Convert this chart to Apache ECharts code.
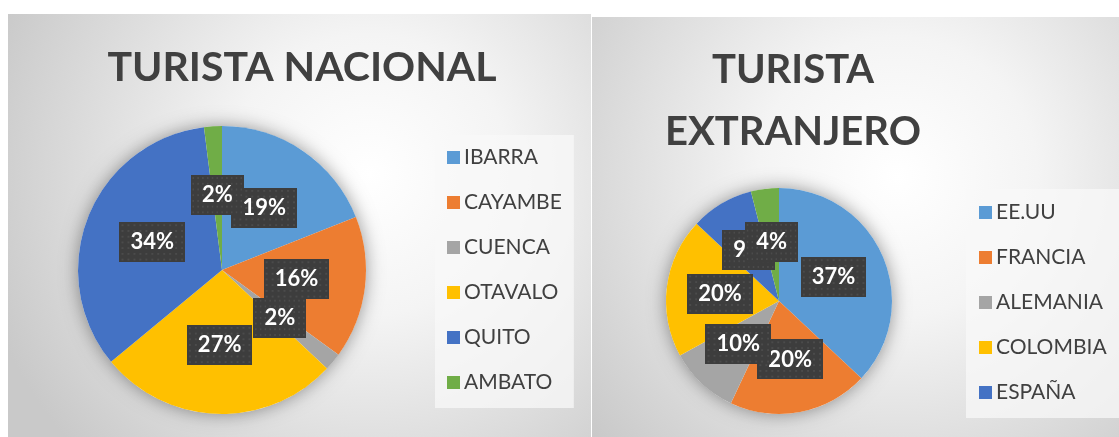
<!DOCTYPE html>
<html>
<head>
<meta charset="utf-8">
<script src="https://cdn.jsdelivr.net/npm/echarts@6/dist/echarts.min.js"></script>
<style>
html, body { margin: 0; padding: 0; background: #fff; }
#main { width: 1119px; height: 437px; }
</style>
</head>
<body>
<div id="main"></div>
<script>
// turista nacional, % por ciudad
var ciudades = ['IBARRA', 'CAYAMBE', 'CUENCA', 'OTAVALO', 'QUITO', 'AMBATO'];
var nacionalPct = [19, 16, 2, 27, 34, 2];
// turista extranjero, % por pais (el ultimo no sale en la leyenda)
var paises = ['EE.UU', 'FRANCIA', 'ALEMANIA', 'COLOMBIA', 'ESPAÑA', 'OTROS'];
var extranjeroPct = [37, 20, 10, 20, 9, 4];
var paisesLeyenda = paises.slice(0, 5);

var colores = ['#5B9BD5', '#ED7D31', '#A5A5A5', '#FFC000', '#4472C4', '#70AD47'];
var fuente = 'Lato, "Open Sans", sans-serif';

function toData(names, vals) {
    return names.map(function (n, i) { return {name: n, value: vals[i]}; });
}

function fondo(cx, cy) {
    return new echarts.graphic.RadialGradient(cx, cy, 0.95, [
        {offset: 0, color: '#ffffff'},
        {offset: 0.35, color: '#f4f4f4'},
        {offset: 1, color: '#c9c9c9'}
    ]);
}

// fondo punteado de las etiquetas (tipo excel)
var puntos = document.createElement('canvas');
puntos.width = 66; puntos.height = 42;
var ctx = puntos.getContext('2d');
ctx.fillStyle = '#3d3d3d';
ctx.fillRect(0, 0, 66, 42);
ctx.fillStyle = '#4b4b4b';
for (var px = 2; px < 66; px += 6) {
    for (var py = 2; py < 42; py += 6) {
        ctx.fillRect(px, py, 2, 2);
    }
}

var etiqueta = {
    show: true,
    position: 'inside',
    formatter: function (p) { return p.value + '%'; },
    color: '#fff',
    fontFamily: fuente,
    fontWeight: 'bold',
    fontSize: 22,
    lineHeight: 24,
    backgroundColor: {image: puntos},
    padding: [8, 11],
    shadowColor: 'rgba(0,0,0,0.45)',
    shadowBlur: 5,
    shadowOffsetX: 2,
    shadowOffsetY: 3
};

function sombra(center, r) {
    return {
        type: 'pie', silent: true, z: 1,
        center: center, radius: r,
        label: {show: false}, labelLine: {show: false},
        itemStyle: {color: '#ffffff', shadowBlur: 18, shadowColor: 'rgba(0,0,0,0.4)'},
        data: [1]
    };
}

var legendaBase = {
    orient: 'vertical',
    icon: 'rect',
    itemWidth: 13,
    itemHeight: 13,
    itemGap: 24,
    backgroundColor: 'rgba(248,248,248,0.75)',
    textStyle: {color: '#404040', fontFamily: fuente, fontSize: 21, padding: [0, 0, 0, -1]}
};

var chart = echarts.init(document.getElementById('main'));
var option = {
    color: colores,
    animation: false,
    graphic: [
        {type: 'rect', z: -10, shape: {x: 8, y: 14, width: 583, height: 423}, style: {fill: fondo(0.62, 0.38)}},
        {type: 'rect', z: -10, shape: {x: 592, y: 17, width: 527, height: 420}, style: {fill: fondo(0.58, 0.38)}}
    ],
    title: [
        {
            text: 'TURISTA NACIONAL', left: 297, top: 42, textAlign: 'center',
            textStyle: {color: '#404040', fontFamily: fuente, fontWeight: 'bold', fontSize: 41}
        },
        {
            text: 'TURISTA\nEXTRANJERO', left: 788, top: 34, textAlign: 'center',
            textStyle: {color: '#404040', fontFamily: fuente, fontWeight: 'bold', fontSize: 40, lineHeight: 62}
        }
    ],
    legend: [
        Object.assign({}, legendaBase, {data: ciudades, left: 435, top: 135, padding: [12, 12, 15, 12]}),
        Object.assign({}, legendaBase, {data: paisesLeyenda, left: 966, top: 189, padding: [13, 14, 15, 13]})
    ],
    series: [
        sombra([222, 270], 144),
        sombra([779, 301], 113),
        {
            name: 'TURISTA NACIONAL', type: 'pie', z: 3,
            center: [222, 270], radius: 144, startAngle: 90,
            avoidLabelOverlap: false,
            labelLayout: {hideOverlap: false},
            label: etiqueta, labelLine: {show: false},
            data: toData(ciudades, nacionalPct)
        },
        {
            name: 'TURISTA EXTRANJERO', type: 'pie', z: 3,
            center: [779, 301], radius: 113, startAngle: 90,
            avoidLabelOverlap: false,
            labelLayout: {hideOverlap: false},
            label: etiqueta, labelLine: {show: false},
            data: toData(paises, extranjeroPct)
        }
    ]
};
chart.setOption(option);
</script>
</body>
</html>
